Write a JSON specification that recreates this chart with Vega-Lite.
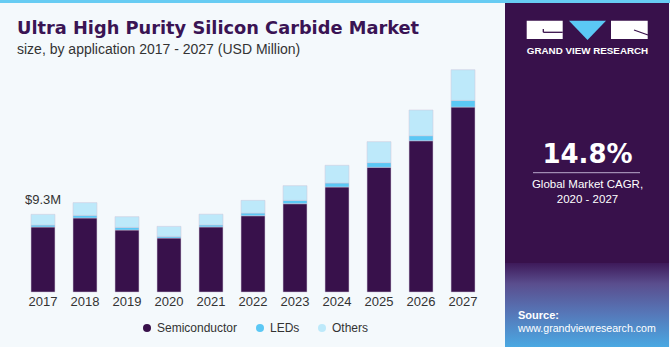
{
  "$schema": "https://vega.github.io/schema/vega-lite/v6.json",
  "background": "#F4F9FC",
  "padding": 0,
  "spacing": 0,
  "config": {"view": {"stroke": null}, "font": "Liberation Sans"},
  "vconcat": [
    {
      "width": 670, "height": 3,
      "view": {"fill": "#67CCF3", "stroke": null},
      "data": {"values": [{}]},
      "mark": {"type": "text", "text": "", "fontSize": 0},
      "encoding": {"x": {"value": 0}, "y": {"value": 0}}
    },
    {
      "spacing": 16,
      "hconcat": [
        {
          "width": 489, "height": 289,
          "data": {"values": [
            {"year": "2017", "application": "Semiconductor", "value": 7.78, "rank": 1},
            {"year": "2017", "application": "LEDs", "value": 0.24, "rank": 2},
            {"year": "2017", "application": "Others", "value": 1.28, "rank": 3},
            {"year": "2018", "application": "Semiconductor", "value": 8.86, "rank": 1},
            {"year": "2018", "application": "LEDs", "value": 0.32, "rank": 2},
            {"year": "2018", "application": "Others", "value": 1.52, "rank": 3},
            {"year": "2019", "application": "Semiconductor", "value": 7.42, "rank": 1},
            {"year": "2019", "application": "LEDs", "value": 0.32, "rank": 2},
            {"year": "2019", "application": "Others", "value": 1.28, "rank": 3},
            {"year": "2020", "application": "Semiconductor", "value": 6.46, "rank": 1},
            {"year": "2020", "application": "LEDs", "value": 0.20, "rank": 2},
            {"year": "2020", "application": "Others", "value": 1.20, "rank": 3},
            {"year": "2021", "application": "Semiconductor", "value": 7.79, "rank": 1},
            {"year": "2021", "application": "LEDs", "value": 0.24, "rank": 2},
            {"year": "2021", "application": "Others", "value": 1.29, "rank": 3},
            {"year": "2022", "application": "Semiconductor", "value": 9.13, "rank": 1},
            {"year": "2022", "application": "LEDs", "value": 0.32, "rank": 2},
            {"year": "2022", "application": "Others", "value": 1.52, "rank": 3},
            {"year": "2023", "application": "Semiconductor", "value": 10.57, "rank": 1},
            {"year": "2023", "application": "LEDs", "value": 0.40, "rank": 2},
            {"year": "2023", "application": "Others", "value": 1.76, "rank": 3},
            {"year": "2024", "application": "Semiconductor", "value": 12.57, "rank": 1},
            {"year": "2024", "application": "LEDs", "value": 0.48, "rank": 2},
            {"year": "2024", "application": "Others", "value": 2.12, "rank": 3},
            {"year": "2025", "application": "Semiconductor", "value": 14.93, "rank": 1},
            {"year": "2025", "application": "LEDs", "value": 0.56, "rank": 2},
            {"year": "2025", "application": "Others", "value": 2.51, "rank": 3},
            {"year": "2026", "application": "Semiconductor", "value": 18.11, "rank": 1},
            {"year": "2026", "application": "LEDs", "value": 0.60, "rank": 2},
            {"year": "2026", "application": "Others", "value": 3.08, "rank": 3},
            {"year": "2027", "application": "Semiconductor", "value": 22.14, "rank": 1},
            {"year": "2027", "application": "LEDs", "value": 0.80, "rank": 2},
            {"year": "2027", "application": "Others", "value": 3.67, "rank": 3}
          ]},
          "layer": [
            {
              "mark": {"type": "bar", "stroke": "#cfc6db", "strokeWidth": 0.5},
              "encoding": {
                "x": {"field": "year", "type": "nominal",
                  "scale": {"paddingInner": 0.43, "paddingOuter": 0.536, "align": 0.689},
                  "axis": {"title": null, "labelAngle": 0, "domain": false, "ticks": false, "labelPadding": 3.5, "labelFontSize": 13, "labelColor": "#333333"}},
                "y": {"field": "value", "type": "quantitative", "stack": "zero",
                  "scale": {"domain": [0, 34.6], "nice": false}, "axis": null},
                "color": {"field": "application", "type": "nominal",
                  "scale": {"domain": ["Semiconductor", "LEDs", "Others"], "range": ["#38114B", "#5BC8F5", "#BDE9FA"]},
                  "legend": {"title": null, "orient": "none", "legendX": 141, "legendY": 322, "direction": "horizontal",
                    "symbolType": "circle", "symbolSize": 64, "symbolStrokeWidth": 0, "labelFontSize": 12, "labelColor": "#333333",
                    "columnPadding": 16, "labelOffset": 4}},
                "order": {"field": "rank", "type": "quantitative"}
              }
            },
            {
              "data": {"values": [{"year": "2017", "total": 9.3, "label": "$9.3M"}]},
              "mark": {"type": "text", "dy": -14, "fontSize": 13, "color": "#333333", "baseline": "middle"},
              "encoding": {
                "x": {"field": "year", "type": "nominal"},
                "y": {"field": "total", "type": "quantitative"},
                "text": {"field": "label"}
              }
            },
            {
              "data": {"values": [{}]},
              "mark": {"type": "text", "text": "Ultra High Purity Silicon Carbide Market", "font": "DejaVu Sans", "fontSize": 17.8, "fontWeight": "bold", "color": "#3A1454", "align": "left", "baseline": "alphabetic"},
              "encoding": {"x": {"value": 17}, "y": {"value": 31.3}}
            },
            {
              "data": {"values": [{}]},
              "mark": {"type": "text", "text": "size, by application 2017 - 2027 (USD Million)", "fontSize": 14, "color": "#333333", "align": "left", "baseline": "alphabetic"},
              "encoding": {"x": {"value": 17}, "y": {"value": 51.3}}
            }
          ]
        },
        {
          "width": 164, "height": 344,
          "view": {"fill": "#38114B", "stroke": null},
          "data": {"values": [{}]},
          "layer": [
            {"mark": {"type": "rect", "fill": {"gradient": "linear", "x1": 0, "y1": 0, "x2": 0, "y2": 1,
                "stops": [{"offset": 0, "color": "#3E1A5A"}, {"offset": 0.25, "color": "#5A4E8E"}, {"offset": 0.6, "color": "#5677B8"}, {"offset": 1, "color": "#4AA8E2"}]}},
             "encoding": {"x": {"value": 0}, "x2": {"value": 164}, "y": {"value": 260}, "y2": {"value": 344}}},
            {"mark": {"type": "rect", "fill": "#FFFFFF"},
             "encoding": {"x": {"value": 21.7}, "x2": {"value": 57.7}, "y": {"value": 17.7}, "y2": {"value": 36}}},
            {"mark": {"type": "rect", "fill": "#FFFFFF"},
             "encoding": {"x": {"value": 106}, "x2": {"value": 142.7}, "y": {"value": 17.7}, "y2": {"value": 36}}},
            {"mark": {"type": "point", "shape": "M-1,-0.52L1,-0.52L0,0.52Z", "filled": true, "size": 1369, "color": "#5BC8F5", "opacity": 1, "strokeWidth": 0},
             "encoding": {"x": {"value": 82.5}, "y": {"value": 27.3}}},
            {"mark": {"type": "rule", "color": "#38114B", "strokeWidth": 1.3},
             "encoding": {"x": {"value": 38.3}, "x2": {"value": 57.7}, "y": {"value": 29.3}}},
            {"mark": {"type": "rule", "color": "#38114B", "strokeWidth": 1.3},
             "encoding": {"x": {"value": 38.3}, "y": {"value": 26}, "y2": {"value": 29.3}}},
            {"mark": {"type": "rule", "color": "#38114B", "strokeWidth": 1.3},
             "encoding": {"x": {"value": 129}, "y": {"value": 27}, "x2": {"value": 143}, "y2": {"value": 32}}},
            {"mark": {"type": "rule", "color": "#B9A9CC", "strokeWidth": 1},
             "encoding": {"x": {"value": 28}, "x2": {"value": 135}, "y": {"value": 169.7}}},
            {"mark": {"type": "text", "text": "GRAND VIEW RESEARCH", "font": "Liberation Sans", "fontWeight": "bold", "fontSize": 9.8, "color": "#FFFFFF", "align": "center", "baseline": "middle"},
             "encoding": {"x": {"value": 82.5}, "y": {"value": 48}}},
            {"mark": {"type": "text", "text": "14.8%", "font": "DejaVu Sans", "fontWeight": "bold", "fontSize": 26, "color": "#FFFFFF", "align": "center", "baseline": "middle"},
             "encoding": {"x": {"value": 82.5}, "y": {"value": 152}}},
            {"mark": {"type": "text", "text": "Global Market CAGR,", "fontSize": 11.5, "color": "#FFFFFF", "align": "center", "baseline": "middle"},
             "encoding": {"x": {"value": 82.5}, "y": {"value": 182}}},
            {"mark": {"type": "text", "text": "2020 - 2027", "fontSize": 11.5, "color": "#FFFFFF", "align": "center", "baseline": "middle"},
             "encoding": {"x": {"value": 82.5}, "y": {"value": 197}}},
            {"mark": {"type": "text", "text": "Source:", "fontSize": 11, "fontWeight": "bold", "color": "#FFFFFF", "align": "left", "baseline": "middle"},
             "encoding": {"x": {"value": 13}, "y": {"value": 313}}},
            {"mark": {"type": "text", "text": "www.grandviewresearch.com", "fontSize": 10.6, "color": "#FFFFFF", "align": "left", "baseline": "middle"},
             "encoding": {"x": {"value": 13}, "y": {"value": 326.3}}}
          ]
        }
      ]
    }
  ]
}
